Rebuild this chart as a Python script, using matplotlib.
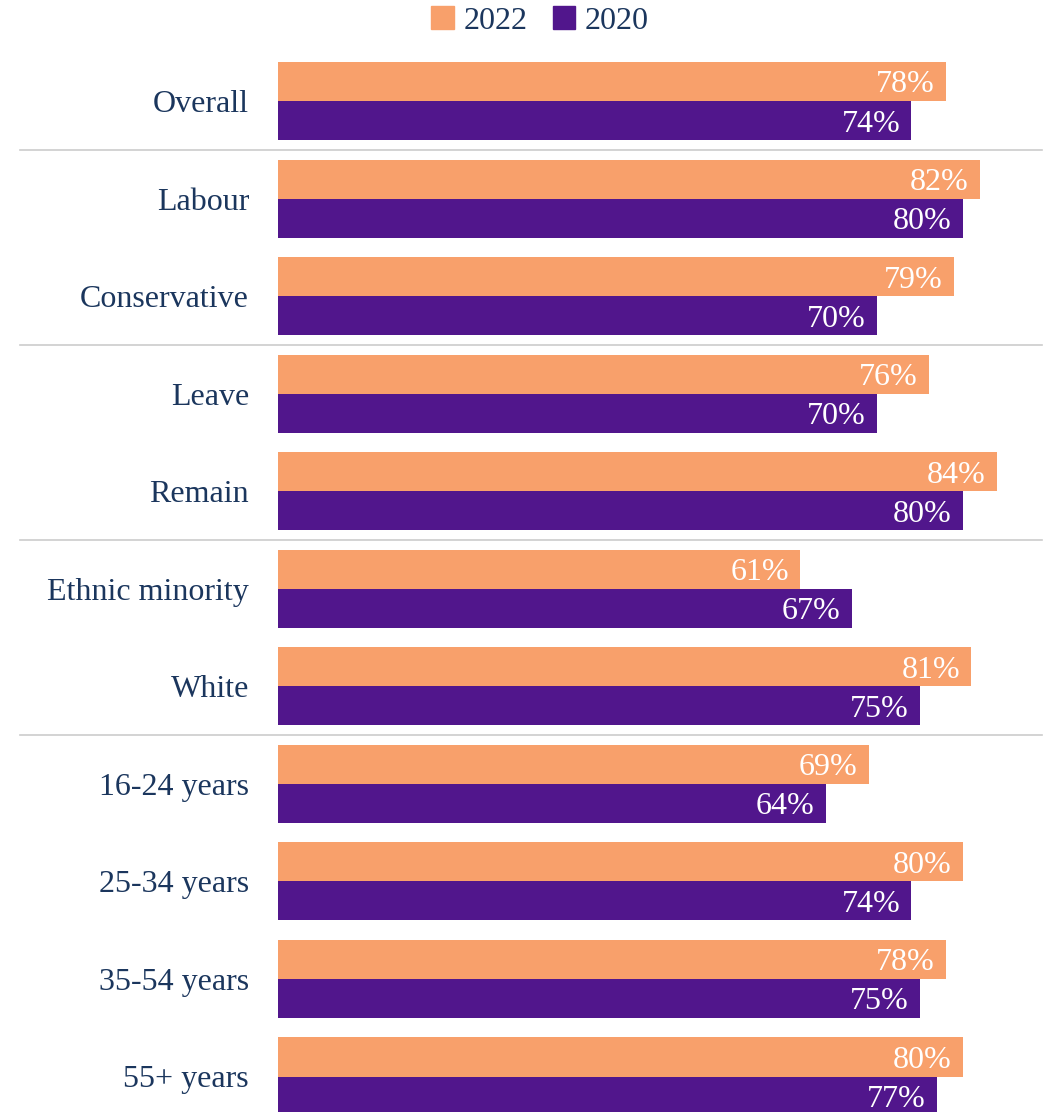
import matplotlib.pyplot as plt
from matplotlib.patches import Patch

categories = ["Overall", "Labour", "Conservative", "Leave", "Remain",
              "Ethnic minority", "White", "16-24 years", "25-34 years",
              "35-54 years", "55+ years"]
values_2022 = [78, 82, 79, 76, 84, 61, 81, 69, 80, 78, 80]
values_2020 = [74, 80, 70, 70, 80, 67, 75, 64, 74, 75, 77]
separators_after = [0, 2, 4, 6]

ORANGE = "#F8A06B"
PURPLE = "#51168C"
NAVY = "#1B365D"

plt.rcParams["font.family"] = ["Liberation Serif", "DejaVu Serif"]

W, H = 1045, 1112
fig = plt.figure(figsize=(W / 100, H / 100), dpi=100)
ax = fig.add_axes([278 / W, 0, 1 - 278 / W, 1])

px_per_pct = 8.56
row_pitch = 97.55
first_row = 101
ax.set_xlim(0, (W - 278) / px_per_pct)
ax.set_ylim((H - first_row) / row_pitch, -first_row / row_pitch)

bar_h = 0.4
pos = list(range(len(categories)))
ax.barh([p - bar_h / 2 for p in pos], values_2022, height=bar_h, color=ORANGE)
ax.barh([p + bar_h / 2 for p in pos], values_2020, height=bar_h, color=PURPLE)

inset = 1.3
for p, v in zip(pos, values_2022):
    ax.text(v - inset, p - bar_h / 2, f"{v}%", ha="right", va="center_baseline",
            color="white", fontsize=23)
for p, v in zip(pos, values_2020):
    ax.text(v - inset, p + bar_h / 2, f"{v}%", ha="right", va="center_baseline",
            color="white", fontsize=23)

# category labels to the left of the bars
for p, c in zip(pos, categories):
    ax.text(-29 / px_per_pct, p, c, ha="right", va="center_baseline",
            color=NAVY, fontsize=23)

# thin separators between the groups
for s in separators_after:
    ax.plot([-258 / px_per_pct, (1042 - 278) / px_per_pct], [s + 0.5, s + 0.5],
            color="#cccccc", lw=1.2, clip_on=False)

ax.axis("off")

handles = [Patch(color=ORANGE, label="2022"), Patch(color=PURPLE, label="2020")]
fig.legend(handles=handles, loc="center", bbox_to_anchor=(540 / W, 1 - 21 / H),
           ncol=2, frameon=False, fontsize=23, handlelength=0.7,
           handleheight=0.7, handletextpad=0.3, columnspacing=0.8,
           labelcolor=NAVY)

fig.savefig("out.png", dpi=100)
